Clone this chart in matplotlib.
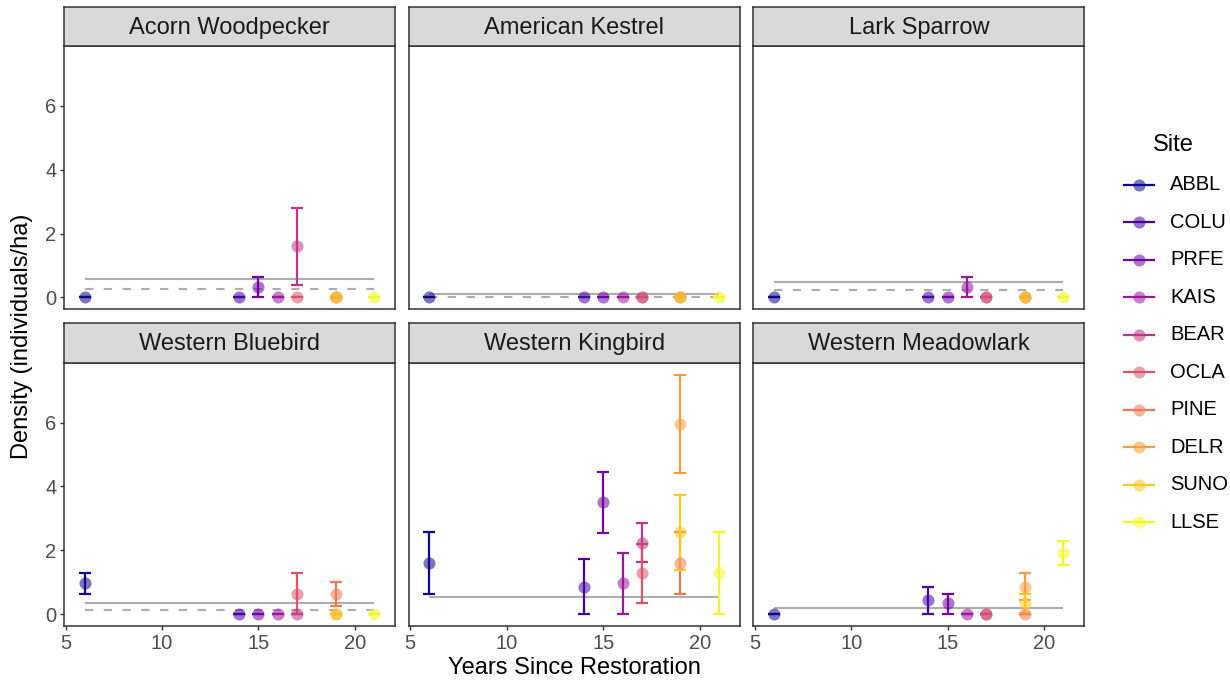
import numpy as np
import matplotlib
matplotlib.use("Agg")
import matplotlib.pyplot as plt

plt.rcParams['font.family'] = ['Liberation Sans', 'DejaVu Sans']

sites = ["ABBL", "COLU", "PRFE", "KAIS", "BEAR", "OCLA", "PINE", "DELR", "SUNO", "LLSE"]
years = [6, 14, 15, 16, 17, 17, 19, 19, 19, 21]
site_colors = ["#0D0887", "#47039F", "#7301A8", "#9C179E", "#BD3786",
               "#D8576B", "#ED7953", "#FA9E3B", "#FDC926", "#F0F921"]

species = ["Acorn Woodpecker", "American Kestrel", "Lark Sparrow",
           "Western Bluebird", "Western Kingbird", "Western Meadowlark"]

# density per site (same order as `sites`), one row per species
density = [
    [0, 0, 0.32, 0, 1.60, 0, 0, 0, 0, 0],
    [0, 0, 0, 0, 0, 0, 0, 0, 0, 0],
    [0, 0, 0, 0.32, 0, 0, 0, 0, 0, 0],
    [0.96, 0, 0, 0, 0, 0.63, 0.63, 0, 0, 0],
    [1.60, 0.86, 3.51, 0.96, 2.23, 1.28, 1.60, 5.96, 2.56, 1.28],
    [0, 0.44, 0.33, 0, 0, 0, 0, 0.86, 0.33, 1.91],
]
density_lo = [
    [0, 0, 0, 0, 0.40, 0, 0, 0, 0, 0],
    [0, 0, 0, 0, 0, 0, 0, 0, 0, 0],
    [0, 0, 0, 0, 0, 0, 0, 0, 0, 0],
    [0.64, 0, 0, 0, 0, 0, 0.26, 0, 0, 0],
    [0.63, 0, 2.55, 0, 1.62, 0.36, 0.64, 4.41, 1.39, 0],
    [0, 0, 0, 0, 0, 0, 0, 0.45, 0.02, 1.53],
]
density_hi = [
    [0, 0, 0.64, 0, 2.80, 0, 0, 0, 0, 0],
    [0, 0, 0, 0, 0, 0, 0, 0, 0, 0],
    [0, 0, 0, 0.65, 0, 0, 0, 0, 0, 0],
    [1.28, 0, 0, 0, 0, 1.28, 1.01, 0, 0, 0],
    [2.56, 1.71, 4.46, 1.91, 2.85, 2.20, 2.56, 7.50, 3.72, 2.56],
    [0, 0.86, 0.64, 0, 0, 0, 0, 1.27, 0.64, 2.30],
]

# reference densities drawn as horizontal lines across the site range
ref_solid = [0.58, 0.115, 0.47, 0.36, 0.52, 0.20]
ref_dashed = [0.25, 0.02, 0.23, 0.12, None, None]

W, H = 1230, 685
fig = plt.figure(figsize=(W / 100, H / 100), dpi=100)


def px_axes(left, top, right, bottom):
    return fig.add_axes([left / W, 1 - bottom / H, (right - left) / W, (bottom - top) / H])


col_left = [64, 408.5, 753.3]
col_right = [395, 740, 1084.3]
strip_top = [6.7, 323.3]
panel_top = [46, 362.7]
panel_bottom = [309.3, 626]

err_width = 0.6
x_lo = min(years) - err_width / 2
x_hi = max(years) + err_width / 2
x_pad = 0.05 * (x_hi - x_lo)
y_max = max(max(r) for r in density_hi)
y_pad = 0.05 * y_max

edge = "#333333"

for k, name in enumerate(species):
    r, c = divmod(k, 3)
    ax = px_axes(col_left[c], panel_top[r], col_right[c], panel_bottom[r])
    strip = px_axes(col_left[c], strip_top[r], col_right[c], panel_top[r])

    # facet strip
    strip.set_facecolor("#D9D9D9")
    strip.set_xticks([])
    strip.set_yticks([])
    for s in strip.spines.values():
        s.set_color(edge)
        s.set_linewidth(1.1)
    strip.text(0.5, 0.47, name, ha="center", va="center", fontsize=17,
               color="#1A1A1A", transform=strip.transAxes)

    ax.hlines(ref_solid[k], min(years), max(years), color="#ADADAD", lw=1.5, zorder=1)
    if ref_dashed[k] is not None:
        ax.hlines(ref_dashed[k], min(years), max(years), color="#ADADAD", lw=1.5,
                  linestyles=(0, (4, 5)), zorder=1)

    for i in range(len(sites)):
        m = density[k][i]
        lo = density_lo[k][i]
        hi = density_hi[k][i]
        ax.errorbar(years[i], m, yerr=[[m - lo], [hi - m]], fmt="none",
                    ecolor=site_colors[i], elinewidth=1.6, capsize=4.3,
                    capthick=1.6, zorder=2)
        ax.plot(years[i], m, "o", color=site_colors[i], alpha=0.55,
                ms=8.7, mew=0, zorder=3)

    ax.set_xlim(x_lo - x_pad, x_hi + x_pad)
    ax.set_ylim(-y_pad, y_max + y_pad)
    ax.set_xticks([5, 10, 15, 20])
    ax.set_yticks([0, 2, 4, 6])
    for s in ax.spines.values():
        s.set_color(edge)
        s.set_linewidth(1.1)
    ax.tick_params(length=3, width=1, color=edge, labelcolor="#4D4D4D",
                   labelsize=14.5, pad=2.5)
    if c != 0:
        ax.tick_params(axis="y", left=False, labelleft=False)
    if r == 0:
        ax.tick_params(axis="x", bottom=False, labelbottom=False)

fig.text(22 / W, 1 - 336 / H, "Density (individuals/ha)", rotation=90,
         ha="center", va="center", fontsize=17)
fig.text(574 / W, 1 - 668 / H, "Years Since Restoration",
         ha="center", va="center", fontsize=17)

# legend for site colours
lg = px_axes(1090, 100, 1230, 560)
lg.set_xlim(1090, 1230)
lg.set_ylim(560, 100)
lg.axis("off")
lg.text(1153, 145, "Site", ha="left", va="center", fontsize=17)
for i, site in enumerate(sites):
    yy = 185 + 37.45 * i
    lg.plot([1124, 1154], [yy, yy], color=site_colors[i], lw=1.6)
    lg.plot(1139, yy, "o", color=site_colors[i], alpha=0.55, ms=8.7, mew=0)
    lg.text(1170, yy, site, ha="left", va="center", fontsize=14.5)

fig.savefig("out.png", dpi=100)
